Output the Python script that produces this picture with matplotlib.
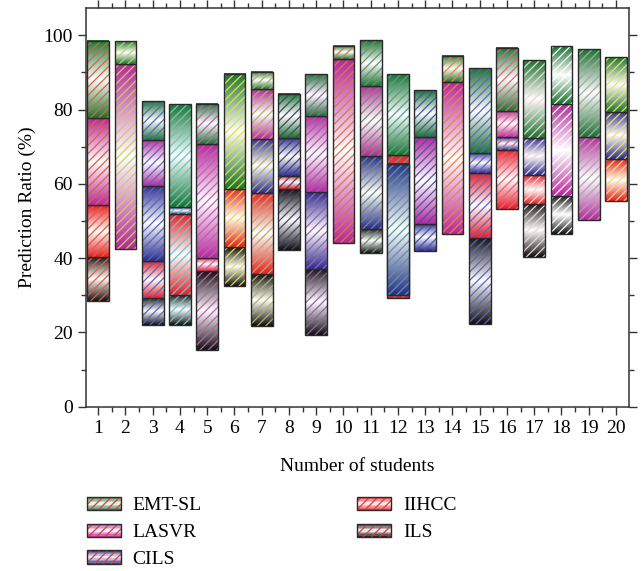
import numpy as np
import matplotlib
matplotlib.use("Agg")
import matplotlib.pyplot as plt
from matplotlib.colors import LinearSegmentedColormap
from matplotlib.patches import Rectangle
from matplotlib.legend_handler import HandlerBase
from matplotlib.ticker import MultipleLocator

plt.rcParams['font.family'] = ['Liberation Serif', 'DejaVu Serif']
plt.rcParams['hatch.linewidth'] = 0.9

nan = np.nan
students = np.arange(1, 21)

# each method is a floating segment (low, high) inside every student's bar
ils_lo = [28.4, nan, 21.9, 22.0, 15.4, 32.6, 21.7, 42.3, 19.4, nan,
          41.3, nan, nan, nan, 22.2, nan, 40.4, 46.4, nan, nan]
ils_hi = [40.4, nan, 29.4, 30.2, 36.5, 42.9, 35.6, 58.6, 37.2, nan,
          47.9, nan, nan, nan, 45.5, nan, 54.7, 56.8, nan, nan]
iihcc_lo = [40.4, nan, 29.4, 30.2, 36.5, 42.9, 35.6, 58.6, nan, nan,
            nan, 29.4, nan, nan, 45.5, 53.2, 54.7, nan, nan, 55.5]
iihcc_hi = [54.3, nan, 39.2, 52.0, 40.1, 58.6, 57.5, 62.1, nan, nan,
            nan, 67.9, nan, nan, 62.8, 69.2, 62.3, nan, nan, 66.7]
cils_lo = [nan, nan, 39.2, 52.0, nan, nan, 57.5, 62.1, 37.2, nan,
           47.9, 30.1, 41.9, nan, 62.8, 69.2, 62.3, nan, nan, 66.7]
cils_hi = [nan, nan, 59.4, 53.8, nan, nan, 72.2, 72.4, 57.7, nan,
           67.4, 65.4, 49.3, nan, 68.3, 72.5, 72.4, nan, nan, 79.4]
lasvr_lo = [54.3, 42.4, 59.4, nan, 40.1, nan, 72.2, nan, 57.7, 44.2,
            67.4, nan, 49.3, 46.4, nan, 72.5, nan, 56.8, 50.2, nan]
lasvr_hi = [77.6, 92.4, 71.9, nan, 70.6, nan, 85.5, nan, 78.3, 93.5,
            86.4, nan, 72.6, 87.4, nan, 79.6, nan, 81.4, 72.6, nan]
emt_lo = [77.6, 92.4, 71.9, 53.8, 70.6, 58.6, 85.5, 72.4, 78.3, 93.5,
          86.4, 67.9, 72.6, 87.4, 68.3, 79.6, 72.4, 81.4, 72.6, 79.4]
emt_hi = [98.5, 98.4, 82.3, 81.4, 81.4, 89.6, 90.2, 84.3, 89.5, 97.2,
          98.6, 89.5, 85.2, 94.4, 91.1, 96.7, 93.3, 97.0, 96.2, 94.1]

hatch_cols = ["#e0603a", "#c8cf60", "#5566c0", "#66c8c8", "#c060b0",
              "#e4e040", "#b4b060", "#45456a", "#9a62a8", "#e07444",
              "#6f8f70", "#4fa090", "#4654a6", "#f08244", "#6462c4",
              "#e06482", "#f2d4d4", "#ffffff", "#a8a8a8", "#f0e060"]

# drawn bottom-up so later methods overlap earlier ones
series = [
    ("ILS", ils_lo, ils_hi, "#111111"),
    ("IIHCC", iihcc_lo, iihcc_hi, "#e81e25"),
    ("CILS", cils_lo, cils_hi, "#2b2d8e"),
    ("LASVR", lasvr_lo, lasvr_hi, "#b62a9c"),
    ("EMT-SL", emt_lo, emt_hi, "#1c7431"),
]
legend_order = ["EMT-SL", "LASVR", "CILS", "IIHCC", "ILS"]

width = 0.8
fig = plt.figure(figsize=(6.44, 5.71), dpi=100)
ax = fig.add_axes([0.1335, 0.2877, 0.8432, 0.698])

grad = np.linspace(0, 1, 80).reshape(-1, 1)
cmaps = {}
for k, (name, lo, hi, col) in enumerate(series):
    cmap = LinearSegmentedColormap.from_list(name, [col, "white", col])
    cmaps[name] = (cmap, col)
    lo = np.array(lo)
    hi = np.array(hi)
    ok = ~np.isnan(lo)
    xs = students[ok]
    for x, a, b in zip(xs, lo[ok], hi[ok]):
        ax.imshow(grad, extent=(x - width / 2, x + width / 2, a, b), origin="lower",
                  cmap=cmap, aspect="auto", interpolation="bilinear", zorder=2 + 3 * k)
    hc = [hatch_cols[i] for i in np.where(ok)[0]]
    ax.bar(xs, hi[ok] - lo[ok], bottom=lo[ok], width=width, color="none",
           edgecolor=hc, hatch="////", linewidth=0, zorder=3 + 3 * k)
    ax.bar(xs, hi[ok] - lo[ok], bottom=lo[ok], width=width, color="none",
           edgecolor="#2a2a2a", linewidth=1.0, zorder=4 + 3 * k)

ax.set_xlim(0.55, 20.48)
ax.set_ylim(0, 107.3)
ax.xaxis.set_major_locator(MultipleLocator(1))
ax.xaxis.set_minor_locator(MultipleLocator(0.5))
ax.yaxis.set_major_locator(MultipleLocator(20))
ax.yaxis.set_minor_locator(MultipleLocator(10))
ax.tick_params(which="both", direction="out", top=True, right=True,
               labelsize=14, color="#333333", width=1.0)
ax.tick_params(which="major", length=6)
ax.tick_params(which="minor", length=3.5)
for s in ax.spines.values():
    s.set_linewidth(1.1)
    s.set_color("#333333")
ax.set_xlabel("Number of students", fontsize=14, labelpad=15)
ax.set_ylabel("Prediction Ratio (%)", fontsize=14, labelpad=5)


class GradHandler(HandlerBase):
    def create_artists(self, legend, orig_handle, xdescent, ydescent, width, height, fontsize, trans):
        cmap, col = orig_handle
        arts = []
        n = 10
        for j in range(n):
            c = cmap((j + 0.5) / n)
            arts.append(Rectangle((-xdescent, -ydescent + j * height / n), width, height / n,
                                  facecolor=c, edgecolor="none", transform=trans))
        arts.append(Rectangle((-xdescent, -ydescent), width, height, fill=False,
                              hatch="////", edgecolor="#e03a3a", linewidth=0, transform=trans))
        arts.append(Rectangle((-xdescent, -ydescent), width, height, fill=False,
                              edgecolor="#2a2a2a", linewidth=1.0, transform=trans))
        return arts


handles = [cmaps[n] for n in legend_order]
fig.legend(handles, legend_order, handler_map={tuple: GradHandler()},
           loc="upper left", bbox_to_anchor=(0.135, 0.130), ncol=2,
           frameon=False, fontsize=14, handlelength=1.75, handleheight=0.7,
           handletextpad=0.6, labelspacing=0.47, columnspacing=8.0,
           borderpad=0, borderaxespad=0)

fig.savefig("out.png", dpi=100)
